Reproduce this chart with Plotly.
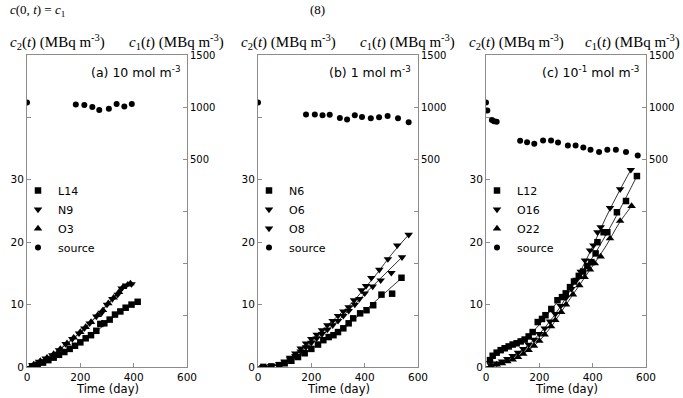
import plotly.graph_objects as go

W, H = 683, 398

# ---------------- data ----------------
# Panel (a) 10 mol m-3 : measured points
a_L14_day = [20, 40, 60, 80, 100, 120, 140, 160, 180, 200, 220, 240, 260, 275, 290, 310, 330, 350, 370, 392, 415]
a_L14_val = [0.1, 0.35, 0.7, 1.1, 1.5, 1.95, 2.4, 2.9, 3.4, 3.95, 4.6, 5.1, 5.8, 6.9, 7.0, 7.6, 8.4, 8.9, 9.5, 10.0, 10.45]
a_N9_day = [20, 45, 70, 95, 120, 145, 170, 195, 215, 235, 260, 280, 300, 320, 340, 355, 372, 392]
a_N9_val = [0.3, 0.85, 1.4, 1.9, 2.7, 3.7, 4.5, 5.4, 6.2, 7.0, 8.1, 8.7, 10.0, 10.9, 11.6, 12.6, 13.1, 13.3]
a_O3_day = [25, 50, 75, 100, 125, 150, 175, 200, 220, 240, 265, 285, 305, 325, 345, 360, 378, 388]
a_O3_val = [0.4, 0.95, 1.5, 2.1, 2.9, 3.8, 4.7, 5.6, 6.4, 7.2, 8.3, 9.1, 10.2, 11.1, 12.0, 12.8, 13.2, 13.4]
a_src_day = [0, 183, 215, 245, 271, 307, 336, 365, 393]
a_src_val = [1044, 1025, 1019, 1000, 971, 984, 1029, 1006, 1029]
# Panel (a) fitted curves
a_L14_fit_day = [0, 50, 100, 150, 200, 250, 300, 350, 415]
a_L14_fit_val = [0.0, 0.5, 1.5, 2.7, 3.95, 5.4, 7.1, 8.9, 10.45]
a_N9_fit_day = [0, 50, 100, 150, 200, 250, 300, 350, 392]
a_N9_fit_val = [0.0, 0.9, 2.1, 3.7, 5.5, 7.6, 9.9, 12.1, 13.3]
a_O3_fit_day = [0, 50, 100, 150, 200, 250, 300, 350, 388]
a_O3_fit_val = [0.0, 0.95, 2.15, 3.8, 5.6, 7.7, 10.0, 12.2, 13.4]

# Panel (b) 1 mol m-3
b_N6_day = [20, 50, 80, 100, 125, 150, 175, 200, 225, 245, 265, 283, 300, 320, 340, 357, 383, 407, 432, 463, 503, 538]
b_N6_val = [0.02, 0.1, 0.3, 0.6, 1.0, 1.6, 2.2, 2.9, 3.6, 4.3, 4.8, 5.1, 5.6, 6.2, 7.0, 7.8, 8.6, 9.1, 9.9, 11.6, 11.75, 14.3]
b_O6_day = [20, 50, 80, 100, 120, 140, 160, 180, 200, 220, 240, 260, 280, 300, 320, 340, 360, 388, 405, 425, 455, 487, 522, 565]
b_O6_val = [0.03, 0.15, 0.5, 0.9, 1.5, 2.2, 3.0, 3.8, 4.5, 5.2, 5.9, 6.7, 7.4, 8.2, 8.9, 9.6, 10.7, 12.3, 13.0, 14.3, 15.6, 17.3, 19.5, 21.2]
b_O8_day = [20, 50, 80, 100, 120, 140, 160, 180, 200, 220, 240, 260, 280, 300, 320, 340, 363, 380, 400, 430, 460, 500, 540]
b_O8_val = [0.02, 0.12, 0.4, 0.75, 1.25, 1.8, 2.5, 3.2, 3.9, 4.6, 5.3, 6.0, 6.7, 7.4, 8.2, 9.0, 10.0, 10.9, 11.8, 12.9, 13.9, 15.1, 17.6]
b_src_day = [0, 180, 213, 242, 269, 307, 334, 363, 390, 423, 454, 486, 525, 565]
b_src_val = [1044, 929, 929, 920, 926, 895, 879, 920, 904, 891, 901, 914, 891, 853]
b_N6_fit_day = [0, 50, 100, 150, 200, 250, 300, 350, 400, 450, 540]
b_N6_fit_val = [0.0, 0.1, 0.6, 1.6, 2.9, 4.3, 5.8, 7.4, 9.0, 10.9, 14.3]
b_O6_fit_day = [0, 50, 100, 150, 200, 250, 300, 350, 400, 450, 500, 565]
b_O6_fit_val = [0.0, 0.15, 0.9, 2.6, 4.4, 6.3, 8.2, 10.2, 12.6, 15.2, 18.0, 21.2]
b_O8_fit_day = [0, 50, 100, 150, 200, 250, 300, 350, 400, 450, 540]
b_O8_fit_val = [0.0, 0.12, 0.75, 2.2, 3.9, 5.6, 7.4, 9.5, 11.7, 13.8, 17.6]

# Panel (c) 10^-1 mol m-3
c_L12_day = [15, 25, 40, 55, 70, 85, 100, 115, 130, 145, 160, 175, 194, 210, 223, 245, 268, 285, 299, 315, 330, 348, 364, 380, 395, 411, 418, 441, 455, 491, 525, 566]
c_L12_val = [1.1, 1.8, 2.3, 2.7, 3.0, 3.3, 3.6, 3.8, 4.1, 4.4, 4.9, 5.6, 7.2, 7.7, 8.3, 9.3, 10.7, 11.2, 11.8, 12.8, 13.7, 14.6, 15.3, 16.2, 16.8, 18.2, 20.0, 21.6, 21.6, 24.8, 26.6, 30.6]
c_O16_day = [18, 40, 60, 80, 100, 120, 140, 160, 180, 200, 220, 240, 260, 280, 300, 320, 340, 355, 371, 390, 403, 418, 430, 465, 503, 543]
c_O16_val = [0.3, 0.6, 0.9, 1.3, 1.8, 2.3, 2.9, 3.6, 4.4, 5.3, 6.2, 7.3, 8.5, 9.8, 11.1, 12.5, 14.0, 15.3, 17.1, 18.7, 19.5, 21.6, 22.4, 25.5, 28.5, 31.6]
c_O22_day = [18, 40, 60, 80, 100, 120, 140, 160, 180, 200, 220, 244, 260, 282, 300, 326, 350, 370, 390, 408, 430, 465, 503, 546]
c_O22_val = [0.2, 0.4, 0.6, 0.9, 1.2, 1.6, 2.1, 2.7, 3.4, 4.2, 5.2, 6.5, 7.5, 8.8, 10.0, 11.6, 13.1, 14.4, 15.6, 16.6, 17.7, 20.6, 23.4, 25.8]
c_src_day = [0, 5, 22, 30, 40, 128, 154, 181, 214, 244, 270, 307, 336, 365, 392, 424, 455, 487, 525, 569]
c_src_val = [1044, 967, 875, 862, 858, 675, 662, 646, 678, 678, 659, 630, 630, 611, 589, 567, 589, 589, 567, 534]
c_L12_fit_day = [0, 50, 100, 150, 200, 250, 300, 350, 400, 450, 500, 566]
c_L12_fit_val = [0.8, 2.5, 3.5, 4.6, 6.8, 9.5, 12.0, 14.7, 17.6, 21.2, 25.1, 30.6]
c_O16_fit_day = [0, 50, 100, 150, 200, 250, 300, 350, 400, 450, 500, 543]
c_O16_fit_val = [0.0, 0.7, 1.8, 3.2, 5.3, 7.9, 11.1, 15.0, 19.3, 24.0, 28.2, 31.6]
c_O22_fit_day = [0, 50, 100, 150, 200, 250, 300, 350, 400, 450, 500, 546]
c_O22_fit_val = [0.0, 0.5, 1.2, 2.4, 4.2, 6.8, 10.0, 13.1, 16.2, 19.4, 23.1, 25.8]

x_ticks = [0, 200, 400, 600]
left_ticks = [0, 10, 20, 30]
left_minor = [40, 50]
right_ticks = [500, 1000, 1500]
right_minor = [-1500, -1000, -500, 0]

panel_labels = ["(a) 10 mol m<sup>-3</sup>", "(b) 1 mol m<sup>-3</sup>", "(c) 10<sup>-1</sup> mol m<sup>-3</sup>"]
x_title = "Time (day)"

# ---------------- style ----------------
FONT = "DejaVu Sans"
SERIF = "Liberation Serif"
GRID = "#8c8c8c"
SYM = {"square": 6.5, "triangle-down": 7.5, "triangle-up": 7.5, "circle": 6}

px_left = [27, 258, 486]
px_right = [187, 418, 646]
px_top, px_bottom = 55, 367

def fx(p):
    return p / W

def fy(p):
    return (H - p) / H

panels = [
    [("L14", a_L14_day, a_L14_val, a_L14_fit_day, a_L14_fit_val, "square"),
     ("N9", a_N9_day, a_N9_val, a_N9_fit_day, a_N9_fit_val, "triangle-down"),
     ("O3", a_O3_day, a_O3_val, a_O3_fit_day, a_O3_fit_val, "triangle-up")],
    [("N6", b_N6_day, b_N6_val, b_N6_fit_day, b_N6_fit_val, "square"),
     ("O6", b_O6_day, b_O6_val, b_O6_fit_day, b_O6_fit_val, "triangle-down"),
     ("O8", b_O8_day, b_O8_val, b_O8_fit_day, b_O8_fit_val, "triangle-down")],
    [("L12", c_L12_day, c_L12_val, c_L12_fit_day, c_L12_fit_val, "square"),
     ("O16", c_O16_day, c_O16_val, c_O16_fit_day, c_O16_fit_val, "triangle-down"),
     ("O22", c_O22_day, c_O22_val, c_O22_fit_day, c_O22_fit_val, "triangle-up")],
]
sources = [(a_src_day, a_src_val), (b_src_day, b_src_val), (c_src_day, c_src_val)]

fig = go.Figure()
layout = dict(
    width=W, height=H, margin=dict(l=0, r=0, t=0, b=0, autoexpand=False),
    paper_bgcolor="white", plot_bgcolor="white",
    font=dict(family=FONT, size=10, color="black"),
    showlegend=True,
)
annotations = []

for i in range(3):
    xa = "x" if i == 0 else f"x{i + 1}"
    yl = "y" if i == 0 else f"y{2 * i + 1}"
    yr = f"y{2 * i + 2}"
    xkey = "xaxis" if i == 0 else f"xaxis{i + 1}"
    ylkey = "yaxis" if i == 0 else f"yaxis{2 * i + 1}"
    yrkey = f"yaxis{2 * i + 2}"
    leg = "legend" if i == 0 else f"legend{i + 1}"

    for name, d, v, fd, fv, sym in panels[i]:
        fig.add_trace(go.Scatter(
            x=fd, y=fv, mode="lines", xaxis=xa, yaxis=yl, showlegend=False,
            line=dict(color="black", width=0.8, shape="spline", smoothing=1.0),
            hoverinfo="skip",
        ))
    for name, d, v, fd, fv, sym in panels[i]:
        fig.add_trace(go.Scatter(
            x=d, y=v, name=name, mode="markers", xaxis=xa, yaxis=yl,
            marker=dict(symbol=sym, size=SYM[sym], color="black"),
            legend=leg,
        ))
    sd, sv = sources[i]
    fig.add_trace(go.Scatter(
        x=sd, y=sv, name="source", mode="markers", xaxis=xa, yaxis=yr,
        marker=dict(symbol="circle", size=SYM["circle"], color="black"),
        legend=leg,
    ))

    dom = [fx(px_left[i]), fx(px_right[i])]
    layout[xkey] = dict(
        domain=dom, range=[0, 600], anchor=yl, automargin=False,
        tickvals=x_ticks, ticks="inside", ticklen=4, tickcolor=GRID,
        showline=True, linecolor=GRID, linewidth=1, mirror=True,
        showgrid=False, zeroline=False, ticklabelstandoff=0,
        tickfont=dict(size=10.5),
    )
    layout[ylkey] = dict(
        domain=[fy(px_bottom), fy(px_top)], range=[0, 50], anchor=xa, automargin=False,
        tickvals=left_ticks, ticks="inside", ticklen=4,
        tickcolor=GRID, showline=True, linecolor=GRID, linewidth=1,
        minor=dict(tickvals=left_minor, ticks="inside", ticklen=4, tickcolor=GRID),
        showgrid=False, zeroline=False, tickfont=dict(size=10.5),
    )
    layout[yrkey] = dict(
        range=[-1500, 1500], overlaying=yl, anchor=xa, side="right", automargin=False,
        tickvals=right_ticks, ticks="inside", ticklen=4,
        tickcolor=GRID, showline=True, linecolor=GRID, linewidth=1,
        minor=dict(tickvals=right_minor, ticks="inside", ticklen=4, tickcolor=GRID),
        showgrid=False, zeroline=False, tickfont=dict(size=10),
    )
    layout[leg] = dict(
        x=fx(px_left[i] - 9), y=fy(176), xanchor="left", yanchor="top",
        bgcolor="rgba(0,0,0,0)", borderwidth=0, font=dict(size=11),
        tracegroupgap=0,
    )
    # x-axis title, low at the bottom edge as in the reference
    annotations.append(dict(
        text=x_title, xref="paper", yref="paper",
        x=fx((px_left[i] + px_right[i]) / 2), y=0, xanchor="center", yanchor="bottom",
        showarrow=False, font=dict(size=11.5),
    ))
    annotations.append(dict(
        text=panel_labels[i], xref="paper", yref="paper",
        x=fx(px_right[i] - 5), y=fy(72), xanchor="right", yanchor="middle",
        showarrow=False, font=dict(size=12.5),
    ))
    annotations.append(dict(
        text="<i>c</i><sub>2</sub>(<i>t</i>) (MBq m<sup>-3</sup>)", xref="paper", yref="paper",
        x=fx(px_left[i] - 19), y=fy(42), xanchor="left", yanchor="middle",
        showarrow=False, font=dict(family=SERIF, size=15),
    ))
    annotations.append(dict(
        text="<i>c</i><sub>1</sub>(<i>t</i>) (MBq m<sup>-3</sup>)", xref="paper", yref="paper",
        x=fx(min(px_right[i] + 39, W - 1)), y=fy(42), xanchor="right", yanchor="middle",
        showarrow=False, font=dict(family=SERIF, size=15),
    ))

# fragments of the surrounding page text at the top edge
annotations.append(dict(
    text="<i>c</i>(0, <i>t</i>) = <i>c</i><sub>1</sub>", xref="paper", yref="paper",
    x=fx(8), y=fy(0), xanchor="left", yanchor="top", showarrow=False,
    font=dict(family=SERIF, size=13),
))
annotations.append(dict(
    text="(8)", xref="paper", yref="paper",
    x=fx(317), y=fy(0), xanchor="center", yanchor="top", showarrow=False,
    font=dict(family=SERIF, size=13),
))

layout["annotations"] = annotations
fig.update_layout(**layout)
fig.write_html("out.html")
